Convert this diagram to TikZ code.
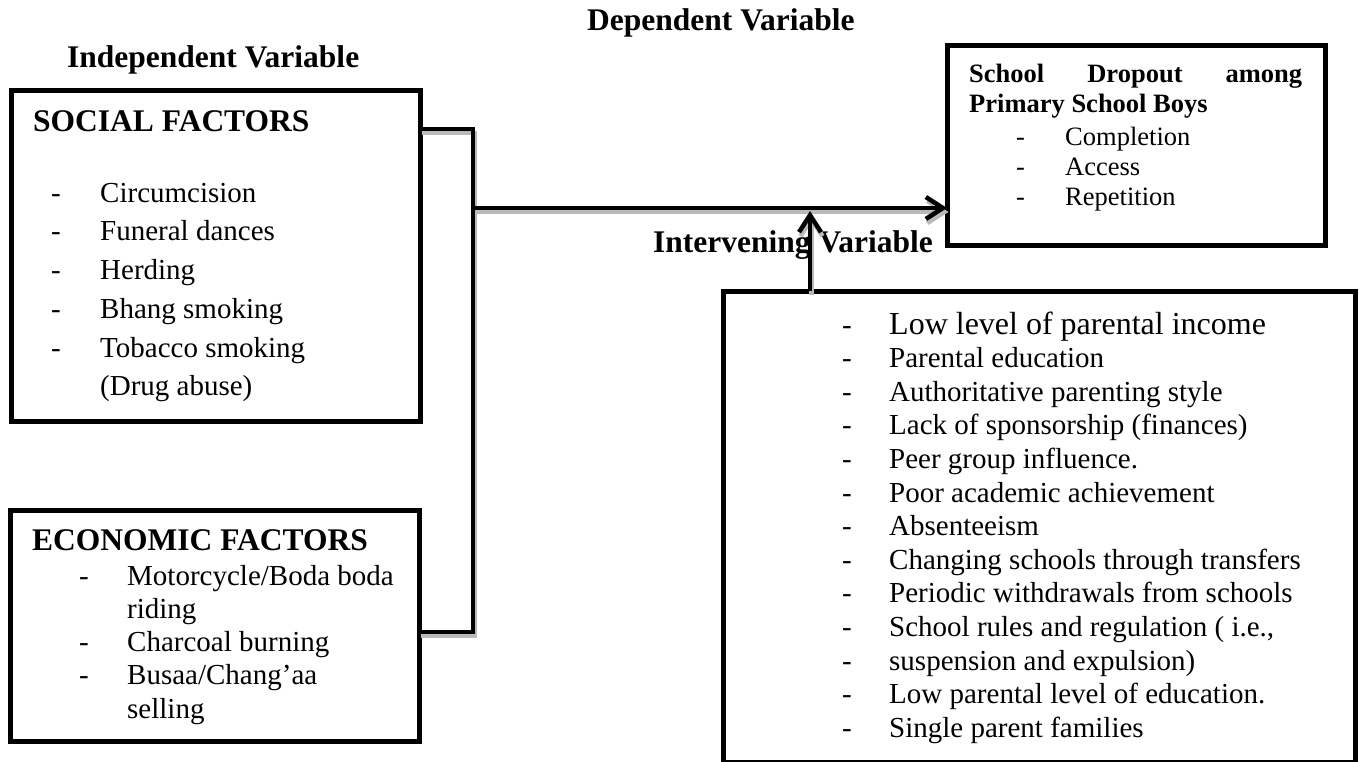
\documentclass[tikz,border=0pt]{standalone}
\usepackage{fontspec}
\setmainfont{Liberation Serif}
\usetikzlibrary{arrows.meta,positioning}

\tikzset{
  frame/.style={draw, line width=5pt, inner sep=0pt, outer sep=0pt},
  heading/.style={font=\fontsize{31.5}{36}\selectfont\bfseries, inner sep=0pt, anchor=base west},
  item/.style={font=\fontsize{29}{34}\selectfont, inner sep=0pt, anchor=base west},
  link/.style={line width=4.5pt},
  >={Straight Barb[length=17pt,width=22pt]}
}

\begin{document}
\begin{tikzpicture}[x=1pt,y=-1pt]
  \useasboundingbox (0,0) rectangle (1359,761);

  % titles
  \node[heading] (indep) at (67,67) {Independent Variable};
  \node[heading] (depvar) at (587,30) {Dependent Variable};
  \node[heading] (intvar) at (653,252) {Intervening Variable};

  % boxes
  \node[frame, minimum width=409pt, minimum height=331pt] (social) at (215.5,255.5) {};
  \node[frame, minimum width=409pt, minimum height=231pt] (econ) at (214.5,625.5) {};
  \node[frame, minimum width=378pt, minimum height=200pt] (dep) at (1136,145) {};
  \node[frame, minimum width=632pt, minimum height=471pt] (interv) at (1039,526.5) {};

  % social factors
  \node[heading] (soc-h) at (33,131) {SOCIAL FACTORS};
  \foreach \t/\d [count=\i from 0] in {Circumcision/-, Funeral dances/-, Herding/-,
      Bhang smoking/-, Tobacco smoking/-, (Drug abuse)/{}} {
    \node[item] (soc-d\i) at (51,202+38.75*\i) {\d};
    \node[item] (soc-t\i) at (100,202+38.75*\i) {\t};
  }

  % economic factors
  \node[heading] (eco-h) at (32,550) {ECONOMIC FACTORS};
  \foreach \t/\d [count=\i from 0] in {{Motorcycle/Boda boda}/-, riding/{},
      Charcoal burning/-, {Busaa/Chang’aa}/-, selling/{}} {
    \node[item] (eco-d\i) at (79,585+33.3*\i) {\d};
    \node[item] (eco-t\i) at (127,585+33.3*\i) {\t};
  }

  % dependent variable
  \node[item, font=\fontsize{26.5}{30}\selectfont\bfseries] (dep-h1) at (969,82)
    {\makebox[333pt][s]{School\hfill Dropout\hfill among}};
  \node[item, font=\fontsize{26.5}{30}\selectfont\bfseries] (dep-h2) at (969,112) {Primary School Boys};
  \foreach \t [count=\i from 0] in {Completion, Access, Repetition} {
    \node[item, font=\fontsize{26.5}{30}\selectfont] (dep-d\i) at (1016,145+30*\i) {-};
    \node[item, font=\fontsize{26.5}{30}\selectfont] (dep-t\i) at (1065,145+30*\i) {\t};
  }

  % intervening variable
  \node[item] (int-d0) at (842,334) {-};
  \node[item, font=\fontsize{32}{36}\selectfont] (int-t0) at (889,334) {Low level of parental income};
  \foreach \t [count=\i from 1] in {Parental education, Authoritative parenting style,
      Lack of sponsorship (finances), Peer group influence., Poor academic achievement,
      Absenteeism, Changing schools through transfers, Periodic withdrawals from schools,
      {School rules and regulation ( i.e.,}, suspension and expulsion),
      Low parental level of education., Single parent families} {
    \node[item] (int-d\i) at (842,334+33.6*\i) {-};
    \node[item] (int-t\i) at (889,334+33.6*\i) {\t};
  }

  % connectors (grey shadow first, then black)
  \coordinate (join) at (473,208);
  \coordinate (meet) at (810,211);
  \foreach \c/\dx/\dy in {gray!55/1.5/-4, black/0/0} {
    \begin{scope}[transform canvas={shift={(\dx pt,\dy pt)}}]
      \draw[link, draw=\c] (social.east |- 0,129) -- (473,129) -- (473,632) -- (econ.east |- 0,632);
      \draw[link, draw=\c, ->] (join) -- (join -| dep.west);
      \draw[link, draw=\c, ->] (meet |- interv.north) -- (meet);
    \end{scope}
  }
\end{tikzpicture}
\end{document}
